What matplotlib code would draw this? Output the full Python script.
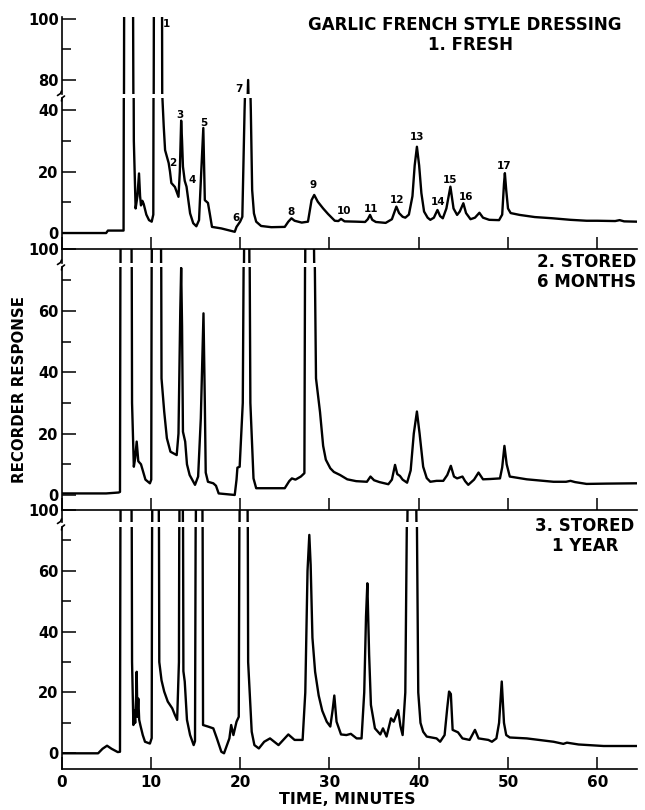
import numpy as np
import matplotlib
matplotlib.use("Agg")
import matplotlib.pyplot as plt
from matplotlib.lines import Line2D
from matplotlib.ticker import FixedLocator

# ---------------- data ----------------
fresh_time = [0.0, 5.0, 5.2, 6.95, 7.05, 7.95, 8.1, 8.3, 8.5, 8.68, 8.8, 8.9, 9.05, 9.2, 9.5, 9.8,
              10.1, 10.28, 10.38, 11.22, 11.3, 11.45, 11.6, 12.0, 12.15, 12.3, 12.7, 13.1, 13.25,
              13.4, 13.5, 13.6, 13.8, 14.0, 14.4, 14.75, 15.1, 15.4, 15.65, 15.88, 16.05, 16.4,
              16.6, 16.85, 17.9, 19.4, 19.6, 20.0, 20.25, 20.5, 20.9, 21.2, 21.35, 21.55, 21.8,
              22.35, 23.5, 25.0, 25.4, 25.75, 26.1, 26.9, 27.6, 28.0, 28.3, 28.7, 29.3, 29.85,
              30.6, 31.0, 31.3, 31.7, 33.0, 34.0, 34.3, 34.55, 34.8, 35.2, 36.3, 37.0, 37.5,
              37.8, 38.2, 38.5, 38.9, 39.3, 39.55, 39.8, 40.05, 40.3, 40.6, 41.0, 41.3, 41.7,
              42.1, 42.4, 42.7, 43.1, 43.55, 43.9, 44.3, 44.6, 45.0, 45.3, 45.8, 46.3, 46.8,
              47.2, 47.9, 49.0, 49.35, 49.55, 49.65, 49.8, 50.0, 50.3, 51.3, 53.0, 55.0, 57.0,
              58.8, 60.0, 62.0, 62.5, 63.0, 64.4]
fresh_resp = [0.0, 0.0, 0.8, 0.8, 160, 160, 30, 8.0, 12, 19.4, 12, 9.0, 10.5, 9.5, 6.0, 4.2,
              3.7, 6.0, 160, 160, 44, 34.6, 27, 22.8, 20, 16.3, 15, 11.8, 20,
              36.6, 30, 21.6, 17, 15.1, 6.4, 3.2, 2.2, 4.2, 20, 34.2, 10.7, 9.8,
              6.4, 2.0, 1.5, 0.4, 2.0, 3.7, 5.3, 40, 80, 40, 14, 6.4, 3.7,
              2.3, 1.9, 2.0, 3.7, 4.8, 4.0, 3.4, 3.7, 10.7, 12.4, 10.2, 8.0, 6.2,
              4.0, 3.9, 4.6, 3.8, 3.7, 3.6, 4.5, 5.9, 4.3, 3.6, 3.3, 4.5, 8.6,
              6.5, 5.3, 5.0, 6.0, 12, 22, 28.1, 22, 13, 7.0, 5.0, 4.3, 5.0,
              7.5, 5.5, 4.8, 8.0, 15.1, 8.0, 5.9, 7.0, 9.7, 6.5, 4.5, 5.0, 6.6,
              5.0, 4.3, 4.2, 6.0, 16, 19.5, 14, 8.0, 6.5, 5.9, 5.2, 4.8, 4.3,
              4.0, 4.0, 3.9, 4.2, 3.8, 3.7]

months6_time = [0.0, 5.0, 6.4, 6.55, 6.65, 7.8, 7.9, 8.1, 8.25, 8.42, 8.6, 8.75, 8.9, 9.1, 9.4,
                9.9, 10.05, 10.15, 11.1, 11.2, 11.5, 11.8, 12.2, 12.9, 13.1, 13.3, 13.4, 13.5,
                13.6, 13.85, 14.05, 14.35, 14.95, 15.3, 15.6, 15.9, 16.05, 16.15, 16.4, 17.0,
                17.3, 17.6, 19.4, 19.6, 19.7, 19.95, 20.3, 20.55, 20.95, 21.15, 21.5, 21.8,
                25.0, 25.5, 25.8, 26.2, 26.8, 27.2, 27.35, 28.1, 28.5, 28.95, 29.3, 29.6, 30.1,
                30.5, 31.2, 32.0, 33.0, 34.2, 34.6, 35.0, 35.6, 36.6, 37.0, 37.35, 37.6, 37.9,
                38.2, 38.7, 39.1, 39.45, 39.8, 40.1, 40.5, 40.9, 41.3, 42.0, 42.75, 43.2, 43.6,
                43.95, 44.3, 44.9, 45.2, 45.55, 46.2, 46.7, 47.2, 48.0, 49.1, 49.35, 49.6,
                49.85, 50.2, 52.1, 55.1, 56.5, 57.0, 57.5, 58.8, 61.0, 64.4]
months6_resp = [0.5, 0.5, 0.8, 1.0, 160, 160, 30, 9.2, 12, 17.4, 11, 10.5, 10, 8.0, 5.0,
                3.8, 5.0, 160, 160, 38, 27.2, 18.5, 14.1, 13.0, 20, 60, 74, 55,
                20.6, 17.4, 10, 6.5, 3.3, 6.0, 25, 59.2, 30, 7.3, 4.3, 3.8,
                3.0, 0.5, 0.0, 5.0, 8.9, 9.2, 30, 150, 150, 30, 5.4, 2.2,
                2.2, 4.5, 5.4, 5.0, 6.0, 7.1, 150, 150, 38, 27, 16, 11.5, 8.7,
                7.5, 6.5, 5.1, 4.5, 4.3, 6.0, 4.8, 4.2, 3.5, 5.0, 9.8, 6.8, 6.2,
                5.0, 4.0, 8.0, 20, 27.2, 20, 9.2, 5.5, 4.3, 4.6, 4.6, 6.5, 9.5,
                6.0, 5.4, 6.0, 4.5, 3.3, 5.0, 7.3, 5.1, 5.2, 5.4, 9.0, 16.0,
                10, 6.0, 5.1, 4.3, 4.3, 4.6, 4.2, 3.6, 3.7, 3.8]

year1_time = [0.0, 4.1, 4.6, 5.1, 5.6, 6.3, 6.55, 6.65, 7.8, 7.9, 8.05, 8.15, 8.25, 8.35, 8.42,
              8.5, 8.6, 8.7, 8.85, 9.1, 9.35, 9.9, 10.1, 10.2, 10.85, 10.95, 11.2, 11.5, 11.9,
              12.4, 12.7, 12.95, 13.15, 13.25, 13.55, 13.65, 13.8, 14.05, 14.4, 14.8, 14.95,
              15.1, 15.75, 15.85, 16.4, 17.0, 17.4, 17.9, 18.2, 18.8, 19.0, 19.25, 19.6, 19.85,
              20.0, 20.8, 20.9, 21.3, 21.6, 22.1, 22.7, 23.35, 24.3, 25.4, 26.1, 27.0, 27.3,
              27.55, 27.75, 27.9, 28.1, 28.4, 28.8, 29.2, 29.7, 30.1, 30.35, 30.55, 30.8, 31.3,
              31.9, 32.4, 33.05, 33.6, 33.9, 34.1, 34.25, 34.45, 34.65, 35.1, 35.7, 36.0, 36.4,
              36.9, 37.2, 37.7, 37.95, 38.2, 38.5, 38.9, 39.6, 39.95, 40.2, 40.5, 40.9, 42.0,
              42.4, 42.9, 43.2, 43.4, 43.6, 43.8, 44.4, 44.9, 45.7, 46.3, 46.7, 47.8, 48.2,
              48.7, 49.0, 49.3, 49.55, 49.8, 50.2, 52.1, 55.1, 56.2, 56.6, 57.9, 60.7, 64.4]
year1_resp = [0.0, 0.0, 1.5, 2.5, 1.5, 0.4, 0.5, 160, 160, 30, 9.3, 14, 10, 18, 26.8,
              12, 18, 11, 9.0, 6.0, 3.8, 3.2, 5.0, 160, 160, 30, 24, 20.3, 17.0,
              14.8, 12.6, 11.0, 30, 150, 150, 27, 23.6, 11, 6.0, 2.7, 4.0,
              150, 150, 9.3, 8.8, 8.2, 4.9, 0.5, 0.0, 4.9, 9.3, 6.0, 10.4, 12,
              150, 150, 30, 7.1, 2.7, 1.6, 3.8, 4.9, 2.7, 6.2, 4.4, 4.4, 20,
              60, 71.8, 62, 38, 26.8, 19, 14, 10.4, 8.8, 14, 19.0, 10.4, 6.2,
              6.0, 6.4, 4.9, 4.9, 20, 45, 55.9, 32.3, 15.9, 8.2, 6.2, 8.2, 5.5,
              11.5, 10.4, 14.2, 9.0, 6.0, 20, 150, 150, 20, 10, 7.1, 5.5, 4.9,
              3.8, 6.0, 15, 20.3, 19.5, 7.7, 6.9, 4.9, 4.4, 7.7, 4.9, 4.4, 3.8,
              4.9, 10, 23.6, 10, 6.0, 5.2, 4.9, 3.8, 3.1, 3.5, 2.9, 2.4, 2.4]

peak_labels = ["1", "2", "3", "4", "5", "6", "7", "8", "9", "10", "11", "12", "13", "14",
               "15", "16", "17"]
peak_label_time = [11.7, 12.49, 13.27, 14.61, 15.96, 19.54, 19.88, 25.7, 28.16, 31.64, 34.66,
                   37.57, 39.81, 42.16, 43.5, 45.3, 49.55]
peak_label_resp = [68.1, 22.8, 38.4, 17.3, 35.8, 4.9, 46.9, 6.8, 15.6, 7.2, 7.8, 10.7, 31.3,
                   10.1, 17.3, 11.7, 21.8]

x_ticks = [0, 10, 20, 30, 40, 50, 60]
title_lines = ["GARLIC FRENCH STYLE DRESSING", "1. FRESH"]
panel_titles = [None, "2. STORED\n6 MONTHS", "3. STORED\n1 YEAR"]

# ---------------- layout (pixels) ----------------
W, H = 645, 810
fig = plt.figure(figsize=(W / 100, H / 100), dpi=100)
X0, X1 = 61.5, 637.0
XMAX = (X1 - X0) / 8.93
FONT = "DejaVu Sans"

panels = [
    dict(t=fresh_time, r=fresh_resp,
         up=(17, 94, 75.4, 100.66), lo=(98, 249, -5.2, 43.97),
         up_maj=[80, 100], up_min=[90], lo_maj=[0, 20, 40], lo_min=[10, 30]),
    dict(t=months6_time, r=months6_resp,
         up=(249, 263, 95.4, 100.0), lo=(267, 510, -4.9, 74.3),
         up_maj=[100], up_min=[], lo_maj=[0, 20, 40, 60], lo_min=[10, 30, 50, 70]),
    dict(t=year1_time, r=year1_resp,
         up=(510, 522, 96.05, 100.0), lo=(527, 769, -5.16, 74.4),
         up_maj=[100], up_min=[], lo_maj=[0, 20, 40, 60], lo_min=[10, 30, 50, 70]),
]


def add_ax(top, bot):
    return fig.add_axes([X0 / W, 1 - bot / H, (X1 - X0) / W, (bot - top) / H])


def fig_line(points, lw=1.2):
    xs = [p[0] / W for p in points]
    ys = [1 - p[1] / H for p in points]
    fig.add_artist(Line2D(xs, ys, color="black", lw=lw, solid_capstyle="round"))


lower_axes = []
for i, p in enumerate(panels):
    for part in ("up", "lo"):
        top, bot, y0, y1 = p[part]
        ax = add_ax(top, bot)
        ax.set_facecolor("none")
        ax.plot(p["t"], p["r"], color="black", lw=1.7, solid_joinstyle="round")
        ax.set_xlim(0, XMAX)
        ax.set_ylim(y0, y1)
        for s in ("top", "right"):
            ax.spines[s].set_visible(False)
        ax.spines["left"].set_linewidth(1.2)
        ax.spines["bottom"].set_linewidth(1.2)
        ax.yaxis.set_major_locator(FixedLocator(p[part + "_maj"]))
        ax.yaxis.set_minor_locator(FixedLocator(p[part + "_min"]))
        ax.tick_params(axis="y", which="major", direction="in", length=10, width=1.1, pad=2,
                       labelsize=10.5)
        ax.tick_params(axis="y", which="minor", direction="in", length=6.5, width=1.1)
        for lab in ax.get_yticklabels():
            lab.set_fontfamily(FONT)
            lab.set_fontweight("bold")
        if part == "up":
            ax.spines["bottom"].set_visible(False)
            ax.set_xticks([])
            # break mark at bottom of upper segment
            fig_line([(X0, bot - 3), (X0 - 1, bot - 0.5), (X0 - 4, bot + 1.5)])
        else:
            ax.set_xticks(x_ticks)
            ax.tick_params(axis="x", direction="in", length=8.5, width=1.1, pad=4,
                           labelsize=11, labelbottom=(i == 2))
            for lab in ax.get_xticklabels():
                lab.set_fontfamily(FONT)
                lab.set_fontweight("bold")
            fig_line([(X0 + 3, top - 2), (X0 + 0.5, top), (X0, top + 3)])
            lower_axes.append(ax)

# peak numbers on the fresh sample
for lab, tt, rr in zip(peak_labels, peak_label_time, peak_label_resp):
    lower_axes[0].text(tt, rr, lab, ha="center", va="center", fontsize=7.5,
                       fontweight="bold", family=FONT)

# titles
fig.text(465 / W, 1 - 25 / H, title_lines[0], ha="center", va="center", fontsize=12,
         fontweight="bold", family=FONT)
fig.text(471 / W, 1 - 45 / H, title_lines[1], ha="center", va="center", fontsize=12,
         fontweight="bold", family=FONT)
fig.text(587 / W, 1 - 272 / H, panel_titles[1], ha="center", va="center", fontsize=12,
         fontweight="bold", family=FONT, linespacing=1.15)
fig.text(585 / W, 1 - 536 / H, panel_titles[2], ha="center", va="center", fontsize=12,
         fontweight="bold", family=FONT, linespacing=1.15)

fig.text(20 / W, 1 - 390 / H, "RECORDER RESPONSE", rotation=90, ha="center", va="center",
         fontsize=10.8, fontweight="bold", family=FONT)
fig.text(347 / W, 1 - 800 / H, "TIME, MINUTES", ha="center", va="center",
         fontsize=11.4, fontweight="bold", family=FONT)

fig.savefig("out.png", dpi=100)
